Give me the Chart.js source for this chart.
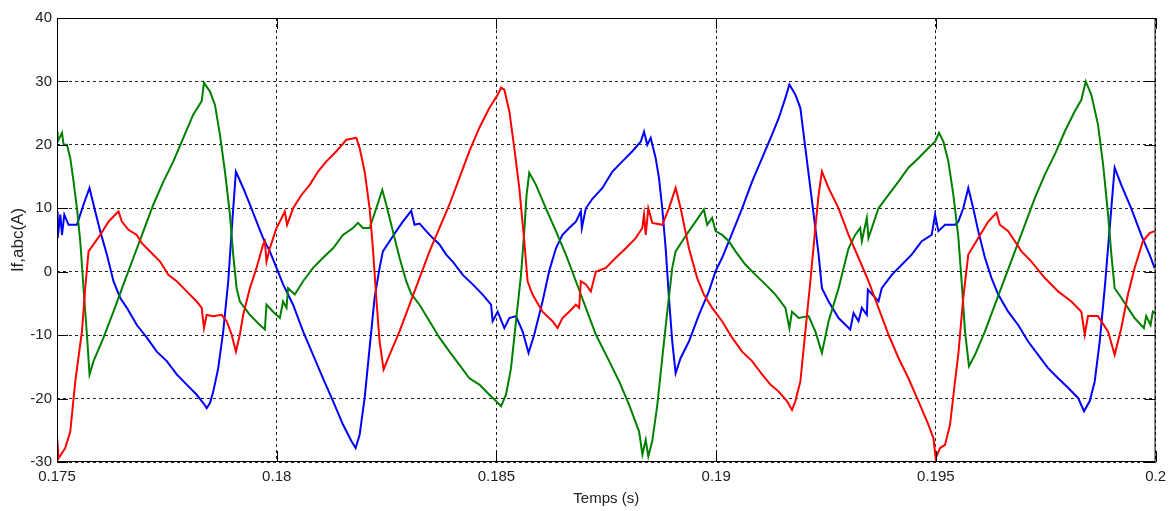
<!DOCTYPE html>
<html>
<head>
<meta charset="utf-8">
<title>If,abc(A)</title>
<script src="https://cdn.jsdelivr.net/npm/chart.js@4.4.1/dist/chart.umd.min.js"></script>
<style>
  html, body { margin: 0; padding: 0; background: #fff; }
  canvas { display: block; }
</style>
</head>
<body>
<canvas id="chart" width="1172" height="511"></canvas>
<script>
// tick labels / axes
const xTicks = [0.175, 0.18, 0.185, 0.19, 0.195, 0.2];
const yTicks = [-30, -20, -10, 0, 10, 20, 30, 40];

// phase a (red) - time in s, current in A
const redTime = [
  0.175000, 0.175036, 0.175188, 0.175302, 0.175416, 0.175568, 0.175643, 0.175718, 0.175831, 0.175983,
  0.176172, 0.176399, 0.176476, 0.176626, 0.176817, 0.176930, 0.177119, 0.177346, 0.177534, 0.177725,
  0.177952, 0.178179, 0.178293, 0.178345, 0.178406, 0.178556, 0.178747, 0.178860, 0.178974, 0.179071,
  0.179162, 0.179237, 0.179389, 0.179541, 0.179691, 0.179730, 0.179768, 0.179843, 0.179996, 0.180071,
  0.180184, 0.180236, 0.180373, 0.180563, 0.180752, 0.180940, 0.181131, 0.181358, 0.181585, 0.181812,
  0.181887, 0.182001, 0.182114, 0.182189, 0.182266, 0.182341, 0.182432, 0.182568, 0.182795, 0.183023,
  0.183250, 0.183477, 0.183704, 0.183931, 0.184158, 0.184385, 0.184612, 0.184839, 0.185028, 0.185105,
  0.185180, 0.185293, 0.185407, 0.185520, 0.185634, 0.185709, 0.185822, 0.186049, 0.186276, 0.186390,
  0.186503, 0.186655, 0.186808, 0.186883, 0.186921, 0.187035, 0.187148, 0.187262, 0.187489, 0.187716,
  0.187943, 0.188170, 0.188320, 0.188359, 0.188397, 0.188456, 0.188547, 0.188774, 0.188926, 0.189078,
  0.189192, 0.189380, 0.189569, 0.189721, 0.189909, 0.190136, 0.190363, 0.190590, 0.190818, 0.191045,
  0.191235, 0.191424, 0.191612, 0.191726, 0.191803, 0.191917, 0.192030, 0.192144, 0.192257, 0.192332,
  0.192407, 0.192559, 0.192786, 0.193013, 0.193240, 0.193467, 0.193694, 0.193921, 0.194149, 0.194376,
  0.194603, 0.194830, 0.194943, 0.194996, 0.195096, 0.195209, 0.195323, 0.195436, 0.195511, 0.195624,
  0.195738, 0.195965, 0.196192, 0.196380, 0.196457, 0.196646, 0.196798, 0.196948, 0.197175, 0.197480,
  0.197782, 0.198084, 0.198311, 0.198388, 0.198463, 0.198690, 0.198917, 0.199069, 0.199219, 0.199371,
  0.199523, 0.199712, 0.199864, 0.199977
];
const redCurrent = [
  -26, -29.4, -27.8, -25.2, -17.3, -9.4, -2.5, 3.2, 4.3, 5.8,
  7.9, 9.5, 7.9, 6.6, 5.8, 4.5, 3.2, 1.6, -0.5, -1.5,
  -3.1, -4.7, -5.7, -8.9, -6.8, -7.0, -6.8, -7.8, -9.9, -12.6,
  -9.9, -6.8, -2.6, 0.6, 4.3, 4.8, 1.6, 3.7, 6.9, 7.9,
  9.5, 7.4, 10.0, 12.1, 13.7, 15.8, 17.4, 19.0, 20.8, 21.1,
  19.5, 15.8, 10.0, 3.7, -4.1, -11.0, -15.4, -13.1, -9.4, -5.2,
  -1.0, 3.2, 6.9, 10.6, 14.8, 19.0, 22.7, 25.8, 27.9, 29.0,
  28.7, 25.3, 19.5, 13.2, 4.8, -1.5, -3.6, -6.3, -7.8, -8.9,
  -7.3, -6.3, -5.2, -5.7, -1.5, -2.0, -3.1, 0.0, 0.6, 2.2,
  3.7, 5.3, 6.9, 9.0, 5.8, 10.0, 7.7, 7.4, 10.0, 13.2,
  10.0, 3.7, -1.0, -3.6, -5.7, -7.8, -10.4, -12.6, -14.1, -16.2,
  -17.8, -18.9, -20.4, -21.8, -20.4, -17.3, -9.4, -1.5, 6.9, 12.1,
  15.8, 13.2, 10.0, 5.8, 2.2, -1.5, -5.7, -9.9, -13.6, -16.8,
  -20.4, -24.1, -26.2, -29.4, -27.8, -27.3, -24.1, -17.3, -13.0, -4.1,
  2.7, 5.3, 7.9, 9.3, 7.4, 6.4, 4.8, 3.2, 1.6, -1.0,
  -3.1, -4.7, -6.3, -9.9, -7.0, -7.0, -9.4, -13.1, -8.9, -3.6,
  0.6, 4.8, 6.1, 6.4
];

// phase b (green)
const greenTime = [
  0.175000, 0.175014, 0.175114, 0.175150, 0.175227, 0.175302, 0.175377, 0.175454, 0.175529, 0.175604,
  0.175681, 0.175740, 0.175831, 0.176058, 0.176285, 0.176512, 0.176739, 0.176966, 0.177193, 0.177421,
  0.177648, 0.177875, 0.178102, 0.178293, 0.178345, 0.178481, 0.178595, 0.178708, 0.178822, 0.178935,
  0.179010, 0.179087, 0.179162, 0.179389, 0.179616, 0.179730, 0.179768, 0.179918, 0.180071, 0.180145,
  0.180223, 0.180259, 0.180411, 0.180600, 0.180827, 0.181054, 0.181281, 0.181508, 0.181735, 0.181849,
  0.181962, 0.182114, 0.182266, 0.182402, 0.182493, 0.182643, 0.182795, 0.182947, 0.183061, 0.183250,
  0.183477, 0.183704, 0.183931, 0.184158, 0.184385, 0.184612, 0.184839, 0.184991, 0.185105, 0.185218,
  0.185332, 0.185445, 0.185559, 0.185634, 0.185686, 0.185747, 0.185899, 0.186126, 0.186354, 0.186581,
  0.186808, 0.187035, 0.187262, 0.187566, 0.187793, 0.188020, 0.188247, 0.188322, 0.188397, 0.188456,
  0.188547, 0.188661, 0.188774, 0.188888, 0.189001, 0.189078, 0.189228, 0.189380, 0.189532, 0.189721,
  0.189796, 0.189909, 0.189987, 0.190137, 0.190289, 0.190441, 0.190668, 0.190895, 0.191122, 0.191349,
  0.191576, 0.191667, 0.191726, 0.191878, 0.192105, 0.192257, 0.192407, 0.192559, 0.192786, 0.193013,
  0.193165, 0.193279, 0.193316, 0.193429, 0.193467, 0.193694, 0.193921, 0.194149, 0.194376, 0.194603,
  0.194830, 0.194982, 0.195073, 0.195171, 0.195284, 0.195398, 0.195511, 0.195586, 0.195663, 0.195754,
  0.195890, 0.196117, 0.196344, 0.196571, 0.196798, 0.197025, 0.197252, 0.197480, 0.197707, 0.197934,
  0.198161, 0.198311, 0.198411, 0.198538, 0.198690, 0.198806, 0.198919, 0.198994, 0.199069, 0.199219,
  0.199371, 0.199523, 0.199734, 0.199786, 0.199886, 0.199938, 0.199984
];
const greenCurrent = [
  22.1, 20.5, 21.9, 20.0, 20.0, 17.9, 14.2, 10.0, 4.8, -2.6,
  -9.9, -16.2, -14.1, -10.4, -6.3, -2.0, 2.2, 6.4, 10.6, 14.2,
  17.4, 21.1, 24.8, 26.9, 29.8, 28.4, 26.3, 21.6, 15.8, 9.0,
  2.7, -2.6, -4.7, -6.8, -8.4, -9.1, -5.2, -6.3, -7.3, -4.7,
  -5.7, -2.6, -3.6, -1.5, 0.6, 2.2, 3.7, 5.8, 6.9, 7.7,
  6.9, 6.9, 10.0, 12.9, 10.6, 6.4, 2.2, -1.5, -3.5, -5.2,
  -7.8, -10.4, -12.6, -14.7, -16.8, -17.8, -19.4, -20.4, -21.2, -19.4,
  -15.2, -7.8, -0.5, 6.4, 12.1, 15.6, 13.7, 10.0, 6.4, 2.7,
  -1.5, -5.7, -9.9, -14.1, -17.3, -21.0, -25.2, -28.8, -26.5, -29.1,
  -26.7, -21.0, -13.6, -6.3, 0.6, 3.2, 4.8, 6.4, 7.9, 9.8,
  7.4, 8.5, 6.4, 5.8, 4.8, 3.2, 1.1, -0.5, -2.0, -3.6,
  -5.7, -8.9, -6.3, -7.3, -7.0, -9.4, -12.8, -7.8, -2.6, 3.7,
  5.8, 6.9, 4.8, 8.5, 5.3, 10.0, 12.1, 14.2, 16.4, 17.9,
  19.5, 20.5, 21.9, 20.5, 17.4, 12.1, 5.5, -1.5, -9.4, -14.9,
  -13.1, -9.4, -5.2, -1.0, 3.2, 7.4, 11.6, 15.3, 18.5, 22.1,
  25.3, 27.1, 30.0, 27.9, 23.2, 16.9, 9.0, 2.7, -2.6, -4.1,
  -5.7, -7.3, -8.9, -7.0, -8.4, -6.3, -6.5
];

// phase c (blue)
const blueTime = [
  0.175000, 0.175014, 0.175075, 0.175114, 0.175166, 0.175263, 0.175454, 0.175604, 0.175740, 0.175831,
  0.175983, 0.176135, 0.176285, 0.176437, 0.176589, 0.176817, 0.177044, 0.177271, 0.177498, 0.177725,
  0.177952, 0.178179, 0.178329, 0.178406, 0.178481, 0.178556, 0.178669, 0.178783, 0.178897, 0.178974,
  0.179071, 0.179237, 0.179389, 0.179541, 0.179691, 0.179843, 0.179996, 0.180145, 0.180373, 0.180600,
  0.180827, 0.181054, 0.181281, 0.181508, 0.181699, 0.181796, 0.181887, 0.182001, 0.182114, 0.182228,
  0.182341, 0.182416, 0.182568, 0.182720, 0.182870, 0.183061, 0.183136, 0.183250, 0.183402, 0.183552,
  0.183704, 0.183856, 0.184006, 0.184233, 0.184460, 0.184687, 0.184878, 0.184914, 0.185028, 0.185180,
  0.185293, 0.185445, 0.185595, 0.185731, 0.185861, 0.186049, 0.186201, 0.186354, 0.186503, 0.186655,
  0.186808, 0.186921, 0.186944, 0.187035, 0.187185, 0.187412, 0.187639, 0.187866, 0.188093, 0.188284,
  0.188359, 0.188433, 0.188511, 0.188624, 0.188699, 0.188774, 0.188851, 0.188926, 0.189001, 0.189078,
  0.189192, 0.189380, 0.189608, 0.189835, 0.189987, 0.190137, 0.190289, 0.190441, 0.190591, 0.190818,
  0.191045, 0.191272, 0.191424, 0.191576, 0.191667, 0.191803, 0.191917, 0.192030, 0.192144, 0.192257,
  0.192332, 0.192407, 0.192559, 0.192786, 0.193052, 0.193127, 0.193240, 0.193316, 0.193429, 0.193452,
  0.193694, 0.193769, 0.193996, 0.194223, 0.194450, 0.194678, 0.194905, 0.194982, 0.195057, 0.195209,
  0.195436, 0.195511, 0.195624, 0.195738, 0.195851, 0.195965, 0.196117, 0.196267, 0.196419, 0.196646,
  0.196873, 0.197100, 0.197327, 0.197554, 0.197782, 0.198009, 0.198236, 0.198372, 0.198502, 0.198615,
  0.198729, 0.198843, 0.198956, 0.199069, 0.199219, 0.199446, 0.199673, 0.199864, 0.199977
];
const blueCurrent = [
  9.5, 5.3, 9.0, 5.8, 9.0, 7.4, 7.4, 10.6, 13.2, 10.6,
  6.4, 2.7, -1.5, -4.1, -5.7, -8.4, -10.4, -12.6, -14.1, -16.2,
  -17.8, -19.4, -20.7, -21.5, -20.7, -18.9, -15.2, -9.4, -1.5, 6.4,
  15.8, 13.2, 10.6, 7.9, 5.3, 3.2, 0.6, -2.0, -5.2, -9.4,
  -13.1, -16.8, -20.4, -24.1, -26.7, -27.8, -25.7, -19.9, -12.0, -4.1,
  0.6, 3.2, 4.8, 6.4, 7.9, 9.6, 7.4, 7.6, 6.4, 5.3,
  4.3, 2.7, 1.6, -0.5, -2.0, -3.6, -5.2, -7.8, -6.3, -8.9,
  -7.3, -7.0, -9.4, -12.8, -9.9, -4.7, 0.1, 3.7, 5.8, 6.9,
  7.9, 9.5, 6.9, 10.0, 11.5, 13.2, 15.8, 17.4, 19.0, 20.5,
  22.1, 20.0, 21.1, 17.9, 14.8, 10.0, 3.7, -4.1, -11.0, -16.0,
  -13.6, -11.0, -6.8, -3.1, 0.1, 2.2, 4.8, 7.4, 10.0, 14.2,
  17.9, 21.6, 24.2, 27.4, 29.5, 27.9, 25.8, 19.5, 13.2, 6.9,
  2.7, -2.6, -4.7, -7.3, -9.1, -6.5, -7.8, -5.7, -6.8, -2.8,
  -4.7, -2.6, -0.5, 1.1, 2.7, 4.8, 5.8, 9.0, 6.4, 7.4,
  7.4, 7.9, 10.0, 13.2, 10.0, 6.4, 2.2, -1.0, -3.6, -6.3,
  -8.4, -11.0, -13.1, -15.2, -16.8, -18.3, -19.9, -22.0, -20.4, -17.3,
  -11.0, -2.6, 6.9, 16.4, 13.7, 10.0, 5.8, 2.7, 0.6
];

const labelFont = "'Liberation Sans Narrow', 'Arial Narrow', 'Liberation Sans', Arial, sans-serif";

function toPoints(times, values) {
  return times.map((t, i) => ({ x: t, y: values[i] }));
}

function trace(label, color, times, values) {
  return {
    label,
    data: toPoints(times, values),
    borderColor: color,
    backgroundColor: color,
    borderWidth: 2,
    pointRadius: 0,
    tension: 0,
    fill: false,
  };
}

// axis box + inward tick marks on all four sides, like the matlab figure
const frameBox = {
  id: "frameBox",
  afterDraw(chart) {
    const { ctx, chartArea: a, scales } = chart;
    const len = 11;
    ctx.save();
    ctx.strokeStyle = "#000";
    ctx.lineWidth = 1;
    ctx.setLineDash([]);
    ctx.beginPath();
    scales.x.ticks.forEach((t) => {
      const px = Math.round(scales.x.getPixelForValue(t.value)) + 0.5;
      ctx.moveTo(px, a.bottom);
      ctx.lineTo(px, a.bottom - len);
      ctx.moveTo(px, a.top);
      ctx.lineTo(px, a.top + len);
    });
    scales.y.ticks.forEach((t) => {
      const py = Math.round(scales.y.getPixelForValue(t.value)) + 0.5;
      ctx.moveTo(a.left, py);
      ctx.lineTo(a.left + len, py);
      ctx.moveTo(a.right, py);
      ctx.lineTo(a.right - len, py);
    });
    ctx.stroke();
    ctx.strokeRect(a.left + 0.5, a.top + 0.5, a.right - a.left - 1, a.bottom - a.top - 1);
    ctx.restore();
  },
};

new Chart(document.getElementById("chart"), {
  type: "line",
  data: {
    datasets: [
      trace("a", "#ff0000", redTime, redCurrent),
      trace("b", "#008000", greenTime, greenCurrent),
      trace("c", "#0000ff", blueTime, blueCurrent),
    ],
  },
  options: {
    responsive: false,
    animation: false,
    devicePixelRatio: 1,
    layout: { padding: { top: 18, right: 15, left: 0, bottom: 0 } },
    plugins: {
      legend: { display: false },
      tooltip: { enabled: false },
    },
    scales: {
      x: {
        type: "linear",
        min: 0.175,
        max: 0.2,
        afterBuildTicks: (scale) => {
          scale.ticks = xTicks.map((v) => ({ value: v }));
        },
        afterFit: (scale) => {
          scale.height = 49;
        },
        ticks: {
          autoSkip: false,
          maxRotation: 0,
          padding: 6,
          color: "#222",
          font: { family: labelFont, size: 15 },
          callback: (v) => String(Number(v.toFixed(3))),
        },
        grid: { color: "#222", lineWidth: 1, drawTicks: false },
        border: { display: false, dash: [3, 3] },
        title: {
          display: true,
          text: "Temps (s)",
          color: "#222",
          font: { family: labelFont, size: 15 },
          padding: { top: 2, bottom: 3 },
        },
      },
      y: {
        min: -30,
        max: 40,
        afterBuildTicks: (scale) => {
          scale.ticks = yTicks.map((v) => ({ value: v }));
        },
        afterFit: (scale) => {
          scale.width = 57;
        },
        ticks: {
          padding: 5,
          color: "#222",
          font: { family: labelFont, size: 15 },
        },
        grid: { color: "#222", lineWidth: 1, drawTicks: false },
        border: { display: false, dash: [3, 3] },
        title: {
          display: true,
          text: "If,abc(A)",
          color: "#222",
          font: { family: "'Liberation Sans', Arial, sans-serif", size: 17 },
          padding: { top: 8, bottom: 0 },
        },
      },
    },
  },
  plugins: [frameBox],
});
</script>
</body>
</html>
